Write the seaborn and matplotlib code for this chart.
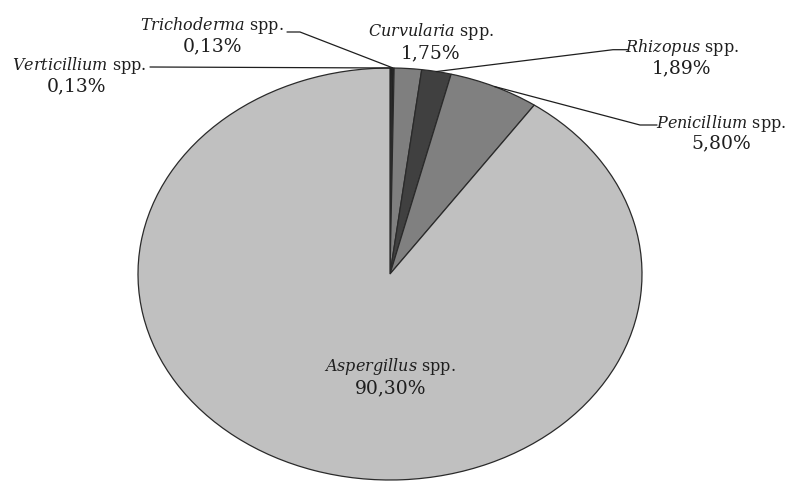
import numpy as np
import matplotlib
matplotlib.use('Agg')
import matplotlib.pyplot as plt
import seaborn as sns

# data
genera = ['Verticillium', 'Trichoderma', 'Curvularia', 'Rhizopus', 'Penicillium', 'Aspergillus']
shares = [0.13, 0.13, 1.75, 1.89, 5.80, 90.30]
share_labels = ['0,13%', '0,13%', '1,75%', '1,89%', '5,80%', '90,30%']
greys = ['#000000', '#1c1c1c', '#7f7f7f', '#404040', '#808080', '#c0c0c0']

sns.set_theme(style='white')
plt.rcParams['font.family'] = ['DejaVu Serif']
plt.rcParams['mathtext.fontset'] = 'dejavuserif'

fig = plt.figure(figsize=(7.87, 4.85), dpi=100)
# axes box = bounding box of the (stretched) pie
ax = fig.add_axes([138 / 787, 4 / 485, 504 / 787, 412 / 485])

wedges, _ = ax.pie(shares, colors=greys, startangle=90, counterclock=False,
                   wedgeprops=dict(edgecolor='#2a2a2a', linewidth=0.9))
ax.set_aspect('auto')
ax.set_xlim(-1, 1)
ax.set_ylim(-1, 1)
ax.axis('off')


def edge_point(w):
    a = np.deg2rad((w.theta1 + w.theta2) / 2)
    return np.cos(a), np.sin(a)


def px(x, y):
    # pixel position in the reference -> axes data units
    return (x - 390) / 252, (275 - y) / 206


# name centre, percentage centre (reference pixels)
label_pos = {
    'Verticillium': ((79, 65), (76, 86)),
    'Trichoderma': ((212, 25), (212, 46)),
    'Curvularia': ((431, 31), (431, 53)),
    'Rhizopus': ((682, 48), (682, 68)),
    'Penicillium': ((721, 123), (721, 143)),
    'Aspergillus': ((390, 367), (391, 388)),
}
leaders = {
    'Verticillium': [(150, 68)],
    'Trichoderma': [(287, 33), (300, 33)],
    'Rhizopus': [(628, 50.7), (613, 50.7)],
    'Penicillium': [(657, 126), (640, 126)],
}

for g, pct, w in zip(genera, share_labels, wedges):
    (nx, ny), (qx, qy) = label_pos[g]
    ax.text(*px(nx, ny), '$\\mathit{' + g + '}$ spp.', ha='center', va='center',
            fontsize=11.5, color='#1e1e1e')
    ax.text(*px(qx, qy), pct, ha='center', va='center', fontsize=13.5, color='#1e1e1e')
    if g in leaders:
        pts = [px(*p) for p in leaders[g]] + [edge_point(w)]
        xs, ys = zip(*pts)
        ax.plot(xs, ys, color='#1e1e1e', lw=0.9, clip_on=False)

fig.savefig('out.png', dpi=100)
